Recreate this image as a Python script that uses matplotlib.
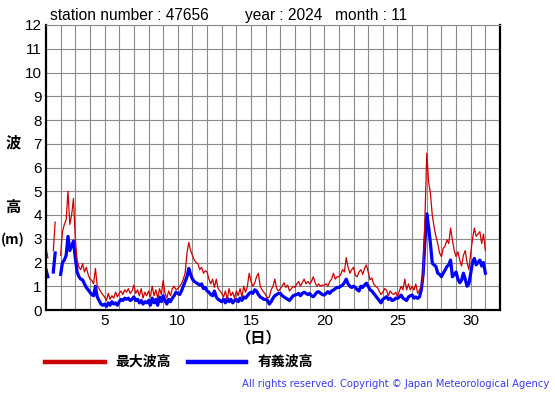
import numpy as np
import matplotlib
matplotlib.use("Agg")
import matplotlib.pyplot as plt

nan = np.nan

station = "47656"
year = "2024"
month = "11"

# 3-hourly readings, Nov 1 00h .. Dec 1 00h (m)
max_wave = [
    2.6, 2.2, nan, nan, 2.5, 3.7, nan, nan,            # 1
    2.3, 3.3, 3.6, 3.8, 5.0, 3.6, 4.0, 4.7,            # 2
    3.0, 2.1, 1.8, 1.7, 1.95, 1.6, 1.8, 1.5,           # 3
    1.3, 1.25, 1.1, 1.75, 1.0, 0.9, 0.75, 0.65,        # 4
    0.55, 0.4, 0.7, 0.45, 0.6, 0.5, 0.75, 0.55,        # 5
    0.7, 0.8, 0.65, 0.85, 0.75, 0.9, 0.7, 0.8,         # 6
    1.05, 0.7, 0.85, 0.6, 0.9, 0.5, 0.75, 0.6,         # 7
    0.8, 0.55, 1.0, 0.6, 0.85, 0.5, 0.9, 0.65,         # 8
    1.25, 0.7, 0.5, 0.8, 0.6, 0.9, 1.0, 0.85,          # 9
    0.9, 1.0, 1.1, 1.3, 1.55, 2.4, 2.85, 2.5,          # 10
    2.3, 2.1, 2.0, 1.95, 1.7, 1.8, 1.55, 1.65,         # 11
    1.6, 1.3, 1.1, 1.3, 0.95, 1.3, 0.9, 0.8,           # 12
    0.7, 0.55, 0.8, 0.45, 0.9, 0.6, 0.75, 0.5,         # 13
    0.8, 0.6, 0.9, 0.55, 1.0, 0.75, 1.0, 1.55,         # 14
    1.2, 1.0, 1.13, 1.4, 1.55, 1.0, 0.85, 0.75,        # 15
    0.65, 0.5, 0.55, 0.85, 1.0, 1.3, 0.9, 0.8,         # 16
    0.9, 1.0, 1.15, 0.95, 1.05, 0.8, 0.9, 1.0,         # 17
    0.95, 1.1, 1.2, 1.0, 1.15, 1.3, 1.1, 1.2,          # 18
    1.1, 1.2, 1.4, 1.15, 1.0, 1.1, 1.0, 1.05,          # 19
    1.05, 1.1, 1.0, 1.2, 1.3, 1.55, 1.3, 1.4,          # 20
    1.4, 1.5, 1.7, 1.6, 2.2, 1.8, 1.55, 1.7,           # 21
    1.8, 1.45, 1.4, 1.6, 1.7, 1.5, 1.75, 1.9,          # 22
    1.6, 1.27, 1.35, 1.1, 1.0, 0.95, 0.8, 0.65,        # 23
    0.75, 0.9, 0.84, 0.6, 0.8, 0.7, 0.65, 0.75,        # 24
    0.56, 0.8, 1.0, 0.85, 1.3, 0.84, 1.1, 0.84,        # 25
    1.0, 0.84, 1.1, 0.7, 0.84, 1.0, 1.4, 3.9,          # 26
    6.6, 5.4, 4.9, 4.0, 3.5, 3.1, 2.8, 2.4,            # 27
    2.25, 2.6, 2.7, 2.95, 2.8, 3.45, 2.95, 2.5,        # 28
    2.25, 2.45, 2.1, 1.85, 2.3, 2.5, 2.0, 1.7,         # 29
    2.4, 3.0, 3.45, 3.1, 3.2, 3.3, 2.8, 3.2,           # 30
    2.5,
]

sig_wave = [
    1.7, 1.4, nan, nan, 1.6, 2.4, nan, nan,            # 1
    1.5, 2.0, 2.1, 2.3, 3.1, 2.5, 2.7, 2.9,            # 2
    2.2, 1.6, 1.4, 1.3, 1.27, 1.1, 0.95, 0.85,         # 3
    0.75, 0.65, 0.6, 1.0, 0.55, 0.4, 0.25, 0.2,        # 4
    0.25, 0.15, 0.3, 0.2, 0.35, 0.25, 0.3, 0.2,        # 5
    0.35, 0.45, 0.4, 0.5, 0.45, 0.5, 0.4, 0.45,        # 6
    0.55, 0.4, 0.45, 0.3, 0.4, 0.25, 0.35, 0.3,        # 7
    0.4, 0.2, 0.5, 0.3, 0.45, 0.2, 0.55, 0.35,         # 8
    0.6, 0.4, 0.25, 0.45, 0.35, 0.5, 0.6, 0.75,        # 9
    0.7, 0.65, 0.8, 1.0, 1.2, 1.4, 1.75, 1.5,          # 10
    1.3, 1.2, 1.15, 1.1, 1.05, 1.1, 0.9, 0.95,         # 11
    0.8, 0.75, 0.65, 0.6, 0.8, 0.55, 0.45, 0.4,        # 12
    0.35, 0.45, 0.3, 0.5, 0.35, 0.45, 0.3, 0.4,        # 13
    0.45, 0.35, 0.5, 0.4, 0.55, 0.5, 0.6, 0.7,         # 14
    0.75, 0.7, 0.85, 0.8, 0.65, 0.55, 0.5, 0.45,       # 15
    0.45, 0.4, 0.25, 0.35, 0.5, 0.6, 0.65, 0.7,        # 16
    0.7, 0.6, 0.55, 0.5, 0.45, 0.4, 0.5, 0.6,          # 17
    0.63, 0.65, 0.7, 0.6, 0.7, 0.75, 0.7, 0.65,        # 18
    0.7, 0.6, 0.56, 0.65, 0.75, 0.77, 0.7, 0.65,       # 19
    0.63, 0.7, 0.77, 0.7, 0.8, 0.84, 0.9, 0.95,        # 20
    0.95, 1.0, 1.05, 1.15, 1.3, 1.1, 1.0, 0.95,        # 21
    1.0, 0.95, 0.85, 0.8, 1.0, 0.95, 1.05, 1.13,       # 22
    1.0, 0.85, 0.8, 0.7, 0.6, 0.5, 0.4, 0.3,           # 23
    0.45, 0.5, 0.56, 0.45, 0.5, 0.4, 0.42, 0.5,        # 24
    0.49, 0.55, 0.63, 0.5, 0.45, 0.4, 0.55, 0.6,       # 25
    0.63, 0.5, 0.55, 0.49, 0.55, 0.84, 1.5, 2.9,       # 26
    4.05, 3.5, 2.8, 1.97, 1.9, 1.83, 1.55, 1.5,        # 27
    1.4, 1.55, 1.68, 1.83, 1.9, 2.1, 1.4, 1.5,         # 28
    1.6, 1.3, 1.15, 1.25, 1.55, 1.3, 1.0, 1.1,         # 29
    1.55, 2.0, 2.17, 1.9, 2.0, 2.1, 1.85, 2.0,         # 30
    1.55,
]

day_ticks = [5, 10, 15, 20, 25, 30]

plt.rcParams['font.family'] = ['Liberation Sans', 'Noto Sans CJK JP', 'DejaVu Sans']

days = 1 + np.arange(len(max_wave)) / 8

fig = plt.figure(figsize=(5.55, 3.95), dpi=100)
ax = fig.add_axes([46 / 555, 85 / 395, 454 / 555, 285 / 395])

ax.plot(days, sig_wave, color='#0000ff', lw=2.3)
ax.plot(days, max_wave, color='#cc0000', lw=0.9)

ax.set_xlim(1, 32)
ax.set_ylim(0, 12)
ax.set_xticks(range(2, 32), minor=True)
ax.set_xticks(day_ticks)
ax.set_yticks(range(0, 13))
ax.grid(True, which='both', color='#8a8a8a', lw=0.8)
ax.set_axisbelow(True)
ax.tick_params(which='both', length=0, labelsize=11, pad=3)

for side in ['left', 'bottom', 'right']:
    ax.spines[side].set_linewidth(1.6)
ax.spines['top'].set_color('#8a8a8a')
ax.spines['top'].set_linewidth(0.8)

fig.text(50 / 555, 1 - 20 / 395, f"station number : {station}", fontsize=11.2, va='baseline')
fig.text(245 / 555, 1 - 20 / 395, f"year : {year}", fontsize=11.2, va='baseline')
fig.text(335 / 555, 1 - 20 / 395, f"month : {month}", fontsize=11.2, va='baseline')

jp = ['Noto Sans CJK JP', 'DejaVu Sans']
fig.text(13 / 555, 1 - 142 / 395, "波", family=jp, fontsize=11, weight='bold', ha='center', va='center')
fig.text(13 / 555, 1 - 207 / 395, "高", family=jp, fontsize=11, weight='bold', ha='center', va='center')
fig.text(13 / 555, 1 - 240 / 395, "(m)", family=jp, fontsize=10, weight='bold', ha='center', va='center')
fig.text(259 / 555, 1 - 337 / 395, "（日）", family=jp, fontsize=11, weight='bold', ha='center', va='center')

# legend drawn by hand below the axes
fig.add_artist(plt.Line2D([45 / 555, 105 / 555], [1 - 362 / 395] * 2, color='#cc0000', lw=3.2))
fig.text(115 / 555, 1 - 362 / 395, "最大波高", family=jp, fontsize=10, weight='bold', va='center')
fig.add_artist(plt.Line2D([188 / 555, 246 / 555], [1 - 362 / 395] * 2, color='#0000ff', lw=3.2))
fig.text(258 / 555, 1 - 362 / 395, "有義波高", family=jp, fontsize=10, weight='bold', va='center')

fig.text(549 / 555, 1 - 384 / 395, "All rights reserved. Copyright © Japan Meteorological Agency",
         family=['DejaVu Sans'], fontsize=7.2, color='#3c3cf0', ha='right', va='center')

fig.savefig("out.png", dpi=100)
